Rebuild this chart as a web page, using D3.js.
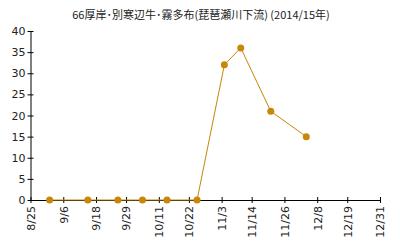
<!DOCTYPE html>
<html>
<head>
<meta charset="utf-8">
<script src="https://cdn.jsdelivr.net/npm/d3@7"></script>
<style>
  body { margin: 0; background: #fff; }
  svg { display: block; }
</style>
</head>
<body>
<svg id="chart" width="400" height="250"></svg>
<script>
const title = "66厚岸･別寒辺牛･霧多布(琵琶瀬川下流) (2014/15年)";

const dates = ["2014-09-01", "2014-09-15", "2014-09-26", "2014-10-05", "2014-10-14",
               "2014-10-25", "2014-11-04", "2014-11-10", "2014-11-21", "2014-12-04"];
const values = [0, 0, 0, 0, 0, 0, 32, 36, 21, 15];

const xTicks = ["2014-08-25", "2014-09-06", "2014-09-18", "2014-09-29", "2014-10-11", "2014-10-22",
                "2014-11-03", "2014-11-14", "2014-11-26", "2014-12-08", "2014-12-19", "2014-12-31"];
const yTicks = [0, 5, 10, 15, 20, 25, 30, 35, 40];

const width = 400, height = 250;
const margin = { top: 31, right: 20, bottom: 50, left: 30.5 };
const color = "#c8860a";

const parse = d3.timeParse("%Y-%m-%d");
const data = dates.map((d, i) => ({ date: parse(d), value: values[i] }));

const svg = d3.select("#chart");

const x = d3.scaleTime()
  .domain([parse(xTicks[0]), parse(xTicks[xTicks.length - 1])])
  .range([margin.left, width - margin.right]);

const y = d3.scaleLinear()
  .domain([0, 40])
  .range([height - margin.bottom, margin.top]);

// Title
svg.append("text")
  .attr("x", 201)
  .attr("y", 19)
  .attr("text-anchor", "middle")
  .attr("font-family", "'Noto Sans CJK JP', sans-serif")
  .attr("font-size", 11)
  .attr("fill", "#222")
  .text(title);

// Axes
const xAxis = d3.axisBottom(x)
  .tickValues(xTicks.map(parse))
  .tickFormat(d3.timeFormat("%-m/%-d"))
  .tickSizeInner(3)
  .tickSizeOuter(0);

const gx = svg.append("g")
  .attr("transform", `translate(0,${height - margin.bottom})`)
  .call(xAxis);

gx.selectAll(".tick line").attr("y1", -3).attr("y2", 3);
gx.selectAll(".tick text")
  .attr("transform", "rotate(-90)")
  .attr("text-anchor", "end")
  .attr("x", -6)
  .attr("y", 0)
  .attr("dy", "0.35em");

const yAxis = d3.axisLeft(y)
  .tickValues(yTicks)
  .tickSizeInner(3)
  .tickSizeOuter(0)
  .tickPadding(2);

const gy = svg.append("g")
  .attr("transform", `translate(${margin.left},0)`)
  .call(yAxis);

gy.selectAll(".tick line").attr("x1", -3).attr("x2", 3);

svg.selectAll(".tick text")
  .attr("font-family", "'DejaVu Sans', sans-serif")
  .attr("font-size", 11)
  .attr("fill", "#222");
svg.selectAll(".domain, .tick line").attr("stroke", "#000");

// Line
const line = d3.line()
  .x(d => x(d.date))
  .y(d => y(d.value));

svg.append("path")
  .datum(data)
  .attr("fill", "none")
  .attr("stroke", color)
  .attr("stroke-width", 1)
  .attr("d", line);

svg.append("g")
  .selectAll("circle")
  .data(data)
  .join("circle")
    .attr("cx", d => x(d.date))
    .attr("cy", d => y(d.value))
    .attr("r", 3.5)
    .attr("fill", color);
</script>
</body>
</html>
